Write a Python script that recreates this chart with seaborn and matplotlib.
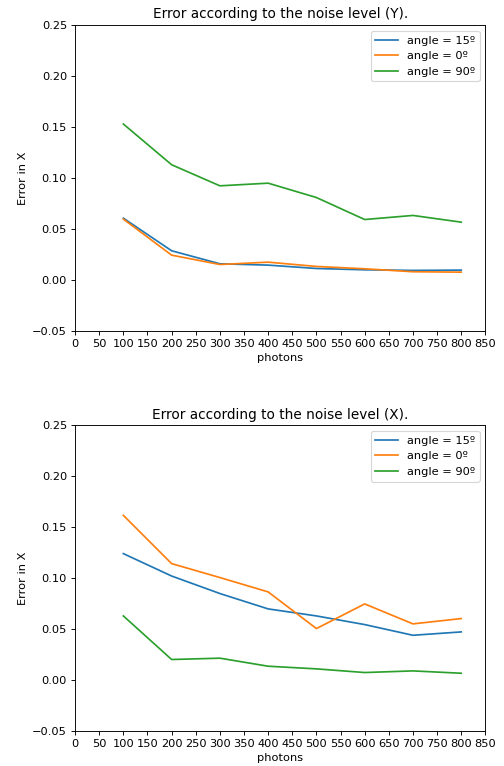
import numpy as np
import pandas as pd
import matplotlib
matplotlib.use("Agg")
import matplotlib.pyplot as plt
import seaborn as sns

photons = [100, 200, 300, 400, 500, 600, 700, 800]
labels = ["angle = 15º", "angle = 0º", "angle = 90º"]

# Error in X, noise on Y
err_y_15 = [0.0605, 0.0285, 0.0157, 0.0144, 0.0111, 0.0098, 0.0092, 0.0095]
err_y_0 = [0.0596, 0.0242, 0.0150, 0.0173, 0.0131, 0.0108, 0.0079, 0.0075]
err_y_90 = [0.153, 0.113, 0.0923, 0.0949, 0.0808, 0.0592, 0.0632, 0.0566]

# Error in X, noise on X
err_x_15 = [0.124, 0.102, 0.0848, 0.0697, 0.0628, 0.0543, 0.0438, 0.0471]
err_x_0 = [0.1616, 0.1142, 0.1005, 0.0864, 0.0504, 0.0746, 0.0550, 0.0602]
err_x_90 = [0.0628, 0.0200, 0.0213, 0.0134, 0.0108, 0.0072, 0.0088, 0.0065]


def make_df(series):
    rows = []
    for lab, vals in zip(labels, series):
        for p, v in zip(photons, vals):
            rows.append({"photons": p, "error": v, "angle": lab})
    return pd.DataFrame(rows)


panels = [
    ("Error according to the noise level (Y).", make_df([err_y_15, err_y_0, err_y_90])),
    ("Error according to the noise level (X).", make_df([err_x_15, err_x_0, err_x_90])),
]

# bigger canvas at lower dpi -> same pixel size, smaller text like the original
fig, axes = plt.subplots(2, 1, figsize=(504 / 82, 766 / 82), dpi=82)
fig.subplots_adjust(left=0.149, right=0.963, top=0.967, bottom=0.046, hspace=0.31)

for ax, (title, df) in zip(axes, panels):
    sns.lineplot(data=df, x="photons", y="error", hue="angle", hue_order=labels,
                 palette=["tab:blue", "tab:orange", "tab:green"], ax=ax)
    ax.set_title(title)
    ax.set_xlabel("photons")
    ax.set_ylabel("Error in X")
    ax.set_xlim(0, 850)
    ax.set_ylim(-0.05, 0.25)
    ax.set_xticks(np.arange(0, 851, 50))
    ax.legend(loc="upper right", title=None)

plt.savefig("out.png", dpi=82)
